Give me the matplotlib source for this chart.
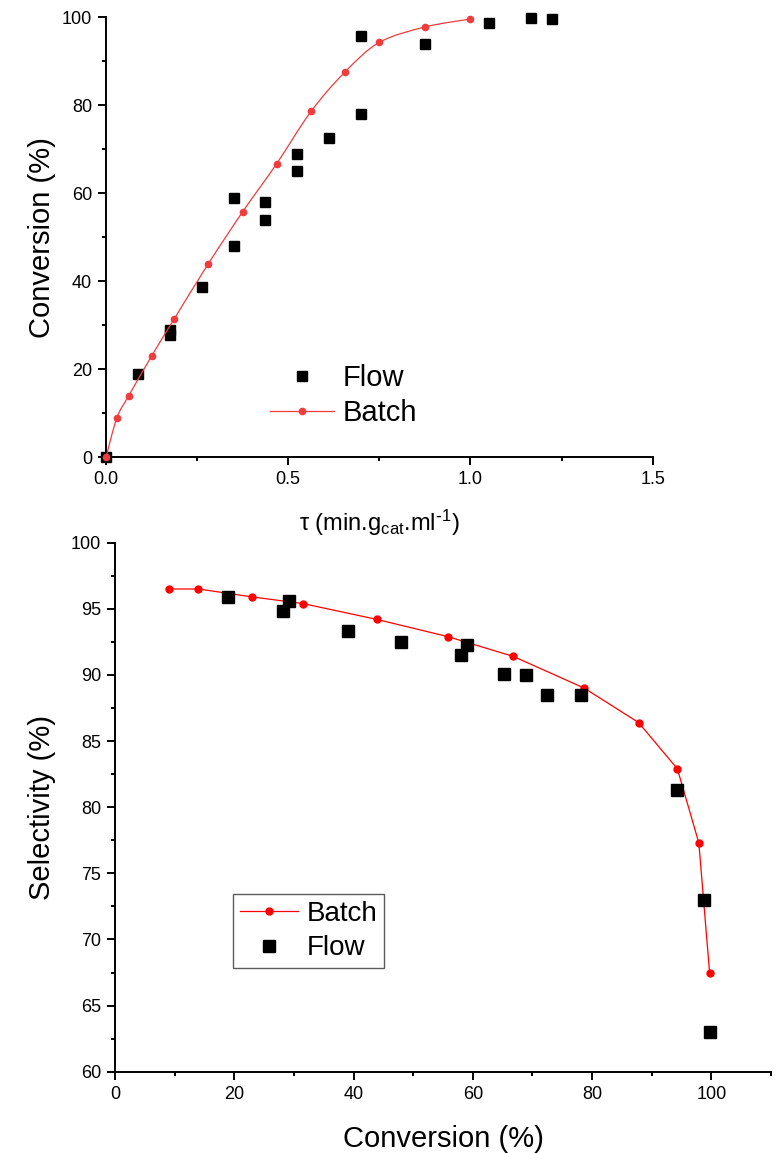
import matplotlib
matplotlib.use('Agg')
import matplotlib.pyplot as plt
from matplotlib.path import Path
from matplotlib.patches import PathPatch
from matplotlib.ticker import MultipleLocator, FormatStrFormatter

plt.rcParams['font.family'] = ['Liberation Sans', 'DejaVu Sans']
plt.rcParams['mathtext.default'] = 'regular'

# top panel: conversion vs residence time
flow_tau = [0, 0.0875, 0.175, 0.175, 0.2625, 0.35, 0.35, 0.4375, 0.4375,
            0.525, 0.525, 0.6125, 0.7, 0.7, 0.875, 1.05, 1.167, 1.225]
flow_conv = [0, 18.9, 28.9, 27.9, 38.8, 58.9, 48.0, 58.0, 53.9,
             68.9, 65.0, 72.5, 95.7, 78.0, 93.9, 98.6, 99.8, 99.5]
batch_tau = [0, 0.03, 0.0625, 0.125, 0.1875, 0.28, 0.375, 0.468, 0.5625,
             0.656, 0.75, 0.875, 1.0]
batch_conv = [0, 9.0, 14.0, 23.0, 31.5, 43.9, 55.8, 66.7, 78.6,
              87.6, 94.3, 97.8, 99.6]

# bottom panel: selectivity vs conversion
batch_sel_conv = [9.0, 14.0, 23.0, 31.5, 43.9, 55.8, 66.8, 78.7, 87.8, 94.3, 97.9, 99.7]
batch_sel = [96.5, 96.5, 95.9, 95.4, 94.2, 92.9, 91.4, 89.0, 86.4, 82.9, 77.3, 67.5]
flow_sel_conv = [19.0, 28.1, 29.1, 39.0, 48.0, 59.1, 58.1, 65.2, 69.0, 72.5, 78.1, 94.2, 98.7, 99.7]
flow_sel = [95.9, 94.8, 95.6, 93.3, 92.5, 92.3, 91.5, 90.1, 90.0, 88.5, 88.5, 81.3, 73.0, 63.0]

W, H = 782, 1153
fig = plt.figure(figsize=(W / 100, H / 100), dpi=100)

TICK_FS = 13
LABEL_FS = 21
TOP_RED = '#F03C3C'


def style_axes(ax):
    for side in ('top', 'right'):
        ax.spines[side].set_visible(False)
    for side in ('left', 'bottom'):
        ax.spines[side].set_linewidth(1.4)
    ax.tick_params(which='major', direction='out', length=6, width=1.4,
                   labelsize=TICK_FS, pad=4)
    ax.tick_params(which='minor', direction='out', length=3.2, width=1.4)


def smooth_path(xs, ys):
    # Catmull-Rom through the points, handed to matplotlib as cubic beziers
    n = len(xs)
    verts = [(xs[0], ys[0])]
    codes = [Path.MOVETO]
    for i in range(n - 1):
        x0, y0 = (xs[i - 1], ys[i - 1]) if i > 0 else (xs[i], ys[i])
        x3, y3 = (xs[i + 2], ys[i + 2]) if i + 2 < n else (xs[i + 1], ys[i + 1])
        x1, y1, x2, y2 = xs[i], ys[i], xs[i + 1], ys[i + 1]
        verts += [(x1 + (x2 - x0) / 6, y1 + (y2 - y0) / 6),
                  (x2 - (x3 - x1) / 6, y2 - (y3 - y1) / 6),
                  (x2, y2)]
        codes += [Path.CURVE4] * 3
    return Path(verts, codes)


# ---- top ----
ax1 = fig.add_axes([106 / W, 1 - 457.3 / H, (652.7 - 106) / W, (457.3 - 17.3) / H])
style_axes(ax1)
ax1.plot(flow_tau, flow_conv, 's', color='black', markersize=6.5, label='Flow',
         zorder=3, clip_on=False)
ax1.add_patch(PathPatch(smooth_path(batch_tau, batch_conv), fill=False,
                        edgecolor=TOP_RED, lw=0.9, zorder=4))
ax1.plot(batch_tau, batch_conv, 'o', color=TOP_RED, markersize=4.5, zorder=4,
         clip_on=False)
ax1.plot([], [], '-o', color=TOP_RED, lw=0.9, markersize=4.5, label='Batch')
ax1.set_xlim(0, 1.5)
ax1.set_ylim(0, 100)
ax1.xaxis.set_major_locator(MultipleLocator(0.5))
ax1.xaxis.set_minor_locator(MultipleLocator(0.25))
ax1.yaxis.set_major_locator(MultipleLocator(20))
ax1.yaxis.set_minor_locator(MultipleLocator(10))
ax1.xaxis.set_major_formatter(FormatStrFormatter('%.1f'))
ax1.set_ylabel('Conversion (%)', fontsize=LABEL_FS)
ax1.yaxis.set_label_coords(-0.092, 0.5)
ax1.set_xlabel(r'τ (min.g$_{cat}$.ml$^{\text{-}1}$)', fontsize=17)
ax1.xaxis.set_label_coords(0.5, -0.115)
ax1.legend(loc='center left', bbox_to_anchor=(0.30, 0.14), frameon=False,
           fontsize=LABEL_FS, handlelength=2.2, handletextpad=0.3,
           labelspacing=0.25, borderpad=0, borderaxespad=0)

# ---- bottom ----
ax2 = fig.add_axes([115 / W, 1 - 1071.7 / H, (771 - 115) / W, (1071.7 - 542.7) / H])
style_axes(ax2)
ax2.plot(batch_sel_conv, batch_sel, '-o', color='red', lw=0.9, markersize=5,
         label='Batch', zorder=3)
ax2.plot(flow_sel_conv, flow_sel, 's', color='black', markersize=8, label='Flow', zorder=4)
ax2.set_xlim(0, 110)
ax2.set_ylim(60, 100)
ax2.xaxis.set_major_locator(MultipleLocator(20))
ax2.xaxis.set_minor_locator(MultipleLocator(10))
ax2.yaxis.set_major_locator(MultipleLocator(5))
ax2.yaxis.set_minor_locator(MultipleLocator(2.5))
ax2.set_xticks([0, 20, 40, 60, 80, 100])
ax2.set_ylabel('Selectivity (%)', fontsize=LABEL_FS)
ax2.yaxis.set_label_coords(-0.09, 0.5)
ax2.set_xlabel('Conversion (%)', fontsize=LABEL_FS)
ax2.xaxis.set_label_coords(0.5, -0.1)
leg = ax2.legend(loc='upper left', bbox_to_anchor=(0.18, 0.336), frameon=True,
                 fancybox=False, fontsize=LABEL_FS - 1, handlelength=2.1,
                 handletextpad=0.3, labelspacing=0.3, borderpad=0.25,
                 borderaxespad=0)
leg.get_frame().set_edgecolor('#333333')
leg.get_frame().set_linewidth(1.0)

fig.savefig('out.png', dpi=100)
